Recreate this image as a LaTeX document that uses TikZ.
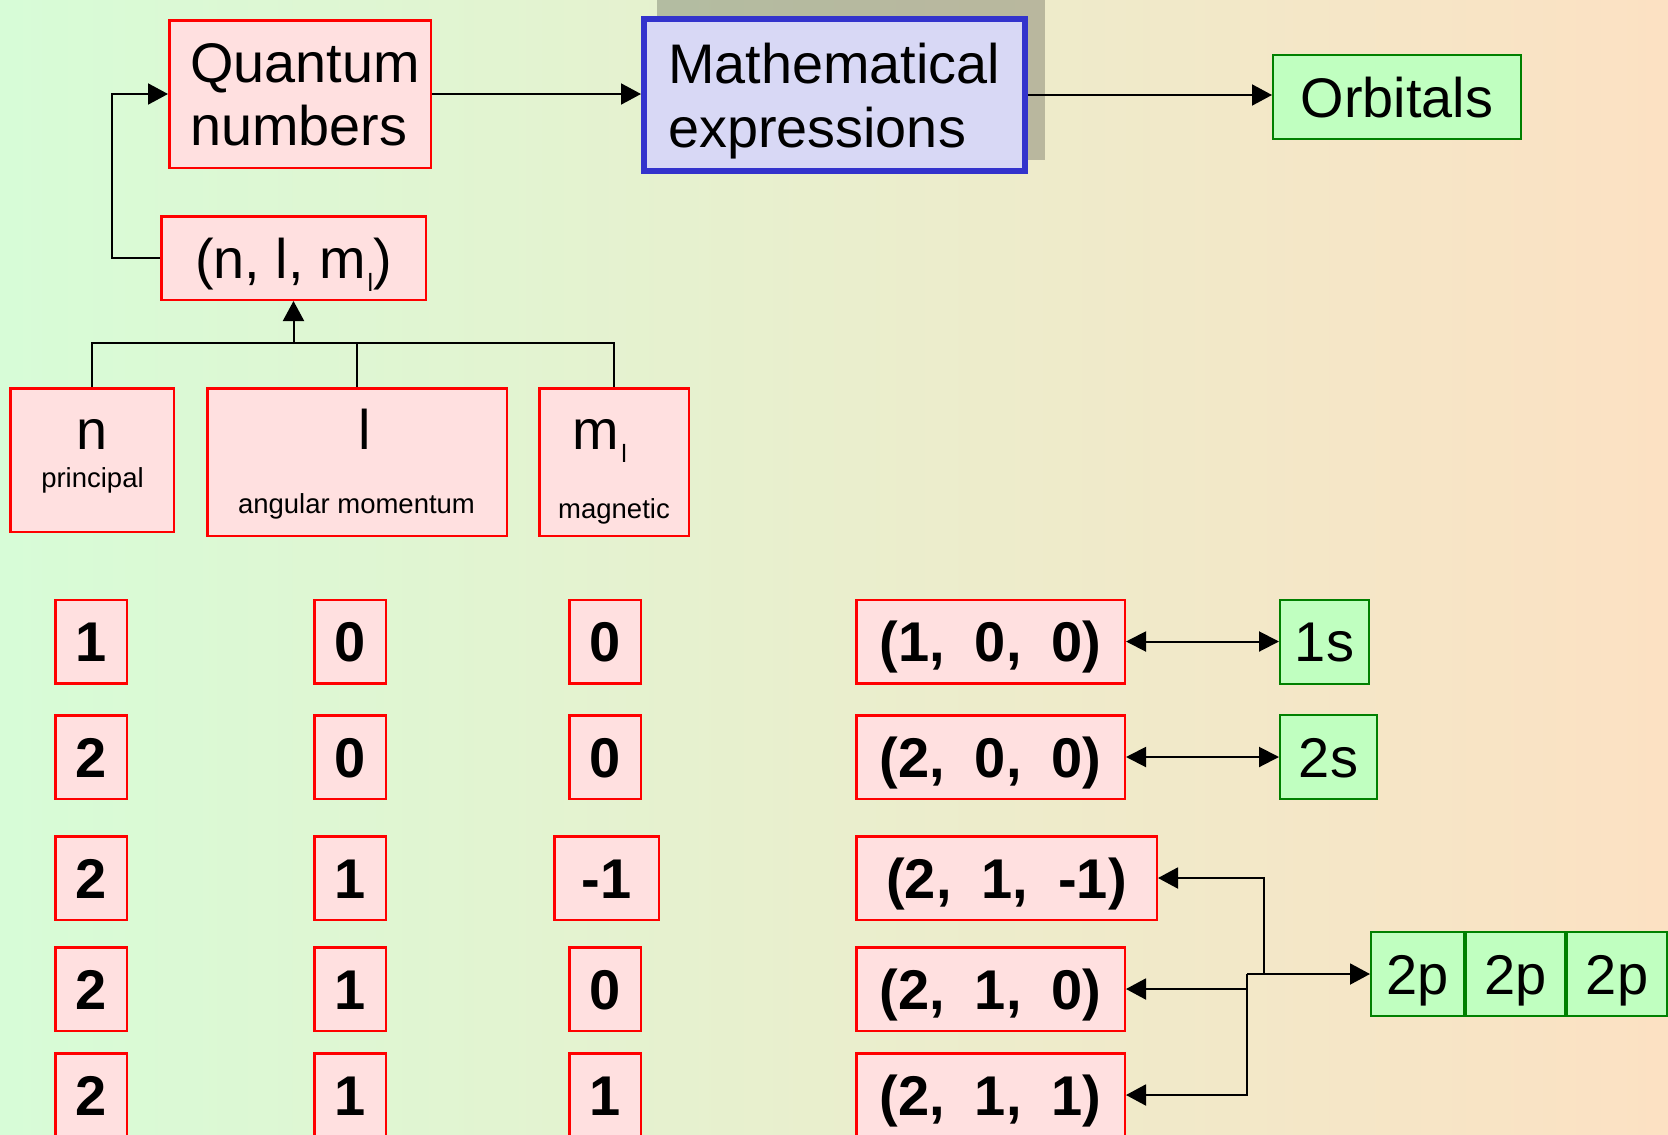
\documentclass[tikz,border=0pt]{standalone}
\usepackage{fontspec}
\setmainfont{Liberation Sans}
\usetikzlibrary{arrows.meta}
\definecolor{bgleft}{RGB}{215,252,215}
\definecolor{bgright}{RGB}{252,225,195}
\definecolor{pinkfill}{RGB}{255,224,224}
\definecolor{boxred}{RGB}{255,0,0}
\definecolor{greenfill}{RGB}{192,255,192}
\definecolor{darkgreen}{RGB}{0,128,0}
\definecolor{mathfill}{RGB}{216,216,245}
\definecolor{mathborder}{RGB}{51,51,204}
\tikzset{
  redbox/.style={draw=boxred, fill=pinkfill, line width=2.5pt, inner sep=0pt},
  greenbox/.style={draw=darkgreen, fill=greenfill, line width=2pt, inner sep=0pt},
  conn/.style={line width=2pt, draw=black},
  arr/.style={conn, -{Triangle[length=20pt,width=21pt]}},
  darr/.style={conn, {Triangle[length=20pt,width=20pt]}-{Triangle[length=20pt,width=20pt]}},
  bigtxt/.style={font=\fontsize{55.8pt}{64pt}\selectfont, inner sep=0pt},
  smalltxt/.style={font=\fontsize{27.5pt}{30pt}\selectfont, inner sep=0pt},
  numtxt/.style={font=\fontsize{56pt}{64pt}\selectfont\bfseries, text height=40pt, text depth=0pt},
  lbltxt/.style={font=\fontsize{56pt}{64pt}\selectfont, text height=40pt, text depth=0pt},
  rowbox/.style={redbox, minimum height=83.5pt},
  colbox/.style={rowbox, numtxt, minimum width=71.5pt},
}
\newcommand{\gapA}{\hspace{30pt}}
\newcommand{\subl}{\hspace{2pt}\raisebox{-13pt}{\fontsize{25pt}{25pt}\selectfont l}}
\begin{document}
\begin{tikzpicture}[x=1pt,y=-1pt]
\useasboundingbox (0,0) rectangle (1668,1135);
\shade[left color=bgleft, right color=bgright] (0,0) rectangle (1668,1135);

% top row
\node[redbox, minimum width=261.5pt, minimum height=147.5pt] (Q) at (300,94) {};
\node[bigtxt, anchor=base west] (qt1) at (190,82) {Quantum};
\node[bigtxt, anchor=base west] (qt2) at (190,145) {numbers};

\fill[black, opacity=0.22] (657,-2) rectangle (1045,160);
\node[draw=mathborder, fill=mathfill, line width=6pt, inner sep=0pt,
      minimum width=381pt, minimum height=152pt] (MA) at (834.5,95) {};
\node[bigtxt, anchor=base west] (mt1) at (668,83) {Mathematical};
\node[bigtxt, anchor=base west] (mt2) at (668,147) {expressions};

\node[greenbox, lbltxt, font=\fontsize{55.8pt}{64pt}\selectfont,
      minimum width=248pt, minimum height=84pt] (O) at (1397,97) {Orbitals};

% (n, l, ml)
\node[redbox, minimum width=264.5pt, minimum height=83.5pt] (T) at (293.5,258) {};
\node[bigtxt, anchor=base] (tt) at (293.5,278) {(n, l, m\subl)};

% n, l, ml boxes
\node[redbox, minimum width=163.5pt, minimum height=143.5pt] (N) at (92,460) {};
\node[bigtxt, anchor=base] (nt) at (92.5,449) {n};
\node[smalltxt, anchor=base] (nt2) at (92.5,487) {principal};
\node[redbox, minimum width=299.5pt, minimum height=147.5pt] (L) at (357,462) {};
\node[bigtxt, anchor=base] (lt) at (365,449) {l};
\node[smalltxt, anchor=base] (lt2) at (356.5,513) {angular momentum};
\node[redbox, minimum width=149.5pt, minimum height=147.5pt] (M) at (614,462) {};
\node[bigtxt, anchor=base] (mlt) at (600,449) {m\subl};
\node[smalltxt, anchor=base] (mlt2) at (614,518) {magnetic};

% table rows
\node[colbox] (a1) at (91,641.5) {1};
\node[colbox] (b1) at (350,641.5) {0};
\node[colbox] (c1) at (605,641.5) {0};
\node[colbox] (a2) at (91,757) {2};
\node[colbox] (b2) at (350,757) {0};
\node[colbox] (c2) at (605,757) {0};
\node[colbox] (a3) at (91,878) {2};
\node[colbox] (b3) at (350,878) {1};
\node[colbox, minimum width=104.5pt] (c3) at (606.5,878) {-1};
\node[colbox] (a4) at (91,989) {2};
\node[colbox] (b4) at (350,989) {1};
\node[colbox] (c4) at (605,989) {0};
\node[colbox] (a5) at (91,1095) {2};
\node[colbox] (b5) at (350,1095) {1};
\node[colbox] (c5) at (605,1095) {1};

\node[rowbox, numtxt, minimum width=268.5pt] (R1) at (990.5,641.5) {(1,\gapA0,\gapA0)};
\node[rowbox, numtxt, minimum width=268.5pt] (R2) at (990.5,757) {(2,\gapA0,\gapA0)};
\node[rowbox, numtxt, minimum width=300.5pt] (R3) at (1006.5,878) {(2,\gapA1,\gapA-1)};
\node[rowbox, numtxt, minimum width=268.5pt] (R4) at (990.5,989) {(2,\gapA1,\gapA0)};
\node[rowbox, numtxt, minimum width=268.5pt] (R5) at (990.5,1095) {(2,\gapA1,\gapA1)};

\node[greenbox, lbltxt, minimum width=89pt, minimum height=84pt] (S1) at (1324.5,641.5) {1s};
\node[greenbox, lbltxt, minimum width=97pt, minimum height=84pt] (S2) at (1328.5,757) {2s};
\node[greenbox, lbltxt, minimum width=93pt, minimum height=84pt] (P1) at (1417.5,974) {2p};
\node[greenbox, lbltxt, minimum width=99pt, minimum height=84pt] (P2) at (1515.5,974) {2p};
\node[greenbox, lbltxt, minimum width=100pt, minimum height=84pt] (P3) at (1617,974) {2p};

% connectors
\draw[arr] (T.west) -- ++(-48,0) |- (Q.west);
\coordinate (J) at (293.5,344);
\draw[conn] (N.north) -- ++(0,-44) -| (M.north);
\draw[conn] (L.north) -- ++(0,-44);
\draw[arr] (J) -- (T.south);
\draw[arr] (Q.east) -- (Q.east -| MA.west);
\draw[arr] (MA.east) -- (MA.east -| O.west);
\draw[darr] (R1.east) -- (S1.west);
\draw[darr] (R2.east) -- (S2.west);
\coordinate (K) at (1247,974);
\coordinate (K2) at (1264,974);
\draw[arr] (K) -- (P1.west);
\draw[arr] (K2) |- (R3.east);
\draw[arr] (K) |- (R5.east);
\draw[arr] (K |- R4.east) -- (R4.east);
\end{tikzpicture}
\end{document}
